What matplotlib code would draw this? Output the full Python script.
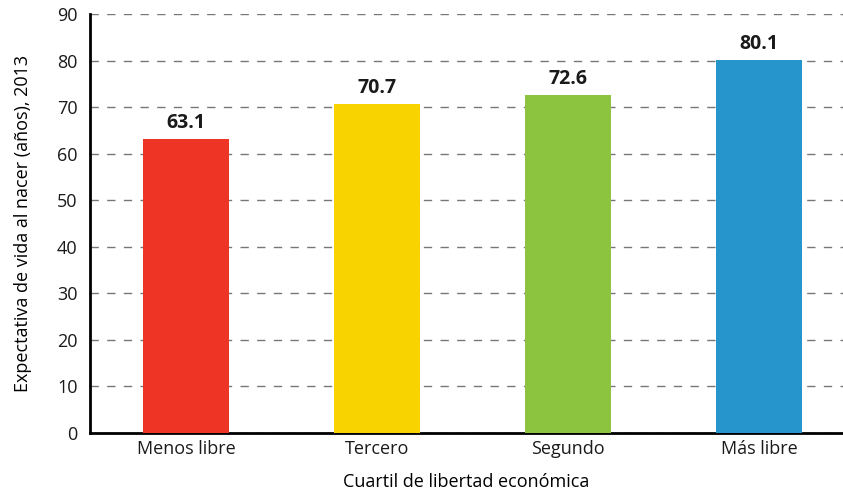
import matplotlib
matplotlib.use("Agg")
from matplotlib import pyplot as plt

# datos: expectativa de vida por cuartil de libertad económica
cuartiles = ["Menos libre", "Tercero", "Segundo", "Más libre"]
expectativa = [63.1, 70.7, 72.6, 80.1]
colores = ["#EE3424", "#F9D300", "#8DC43F", "#2695CB"]

plt.rcParams['font.family'] = ['Open Sans', 'DejaVu Sans']

fig = plt.figure(figsize=(8.43, 4.95), dpi=100)
ax = fig.add_axes([0.1068, 0.1253, 0.8932, 0.8464])

x = range(len(cuartiles))
ax.bar(x, expectativa, width=0.45, color=colores, zorder=3)
for i, v in zip(x, expectativa):
    ax.text(i, v + 1.3, f"{v:.1f}", ha="center", va="bottom",
            fontsize=14, fontweight="bold", color="#1a1a1a")

ax.set_ylim(0, 90)
ax.set_xlim(-0.503, 3.44)
ax.set_yticks(range(0, 91, 10))
ax.set_xticks(list(x))
ax.set_xticklabels(cuartiles)
ax.tick_params(axis="both", length=0, labelsize=13, colors="#1a1a1a")
ax.tick_params(axis="y", pad=9)
ax.tick_params(axis="x", pad=5)
ax.yaxis.grid(True, linestyle=(0, (6, 6)), color="#777777", linewidth=1.0, zorder=0)
for s in ["top", "right"]:
    ax.spines[s].set_visible(False)
ax.spines["left"].set_linewidth(2)
ax.spines["bottom"].set_linewidth(2)
ax.set_xlabel("Cuartil de libertad económica", fontsize=13, labelpad=11)
ax.set_ylabel("Expectativa de vida al nacer (años), 2013", fontsize=13, labelpad=18)

fig.savefig("out.png", dpi=100)
